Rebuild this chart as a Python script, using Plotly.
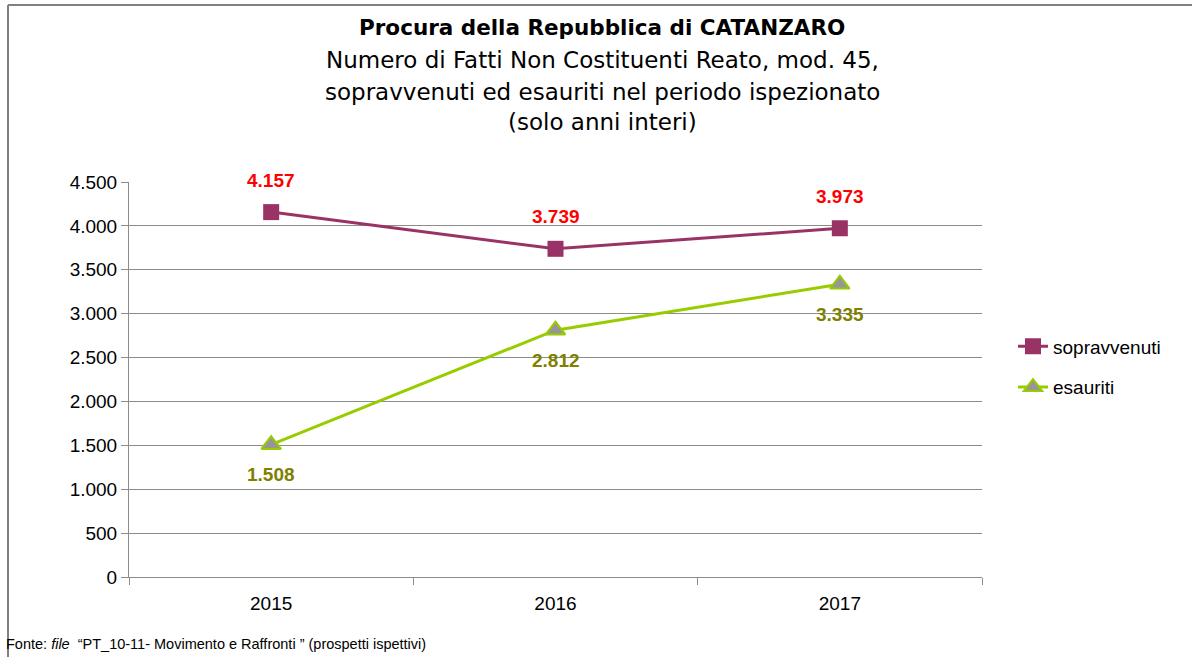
import plotly.graph_objects as go

# ---------------------------------------------------------------------------
# Data
# ---------------------------------------------------------------------------
years = ["2015", "2016", "2017"]
sopravvenuti = [4157, 3739, 3973]
esauriti = [1508, 2812, 3335]

title_lines = [
    "<b>Procura della Repubblica di CATANZARO</b>",
    "Numero di Fatti Non Costituenti Reato, mod. 45,",
    "sopravvenuti ed esauriti nel periodo ispezionato",
    "(solo anni interi)",
]
source_note = "Fonte: <i>file</i>  \u201cPT_10-11- Movimento e Raffronti \u201d (prospetti ispettivi)"

# ---------------------------------------------------------------------------
# Layout geometry (pixels)
# ---------------------------------------------------------------------------
W, H = 1192, 657
PL, PR, PT, PB = 129, 982, 182, 577   # plot area edges


def px_x(x):
    return (x - PL) / (PR - PL)


def px_y(y):
    return (PB - y) / (PB - PT)


def fmt(v):
    return f"{v:,}".replace(",", ".")


AXIS_FONT = "Liberation Sans, Arial, sans-serif"
TITLE_FONT = "DejaVu Sans, Verdana, sans-serif"
GRID = "#8c8c8c"

fig = go.Figure()

fig.add_trace(go.Scatter(
    x=years, y=sopravvenuti, name="sopravvenuti",
    mode="lines+markers",
    line=dict(color="#993366", width=3),
    marker=dict(symbol="square", size=16, color="#993366"),
    legendgroup="a",
))
fig.add_trace(go.Scatter(
    x=years, y=esauriti, name="esauriti",
    mode="lines+markers",
    line=dict(color="#99CC00", width=3),
    marker=dict(symbol="triangle-up", size=17, color="#969696",
                line=dict(color="#99CC00", width=2)),
    legendgroup="b",
))

# data labels (x given as category index)
for i, v in enumerate(sopravvenuti):
    fig.add_annotation(x=i, y=v, xref="x", yref="y", text=f"<b>{fmt(v)}</b>",
                       showarrow=False, yshift=32,
                       font=dict(family=AXIS_FONT, size=19, color="#FF0000"))
for i, v in enumerate(esauriti):
    fig.add_annotation(x=i, y=v, xref="x", yref="y", text=f"<b>{fmt(v)}</b>",
                       showarrow=False, yshift=-30,
                       font=dict(family=AXIS_FONT, size=19, color="#808000"))

# title lines
title_sizes = [21.5, 23, 23, 23]
for text, ypix, fs in zip(title_lines, [28, 60, 92, 122], title_sizes):
    fig.add_annotation(xref="paper", yref="paper", x=px_x(602), y=px_y(ypix),
                       text=text, showarrow=False, xanchor="center", yanchor="middle",
                       font=dict(family=TITLE_FONT, size=fs, color="#000000"))

# source note
fig.add_annotation(xref="paper", yref="paper", x=px_x(4), y=px_y(644),
                   text=source_note, showarrow=False, xanchor="left", yanchor="middle",
                   font=dict(family=AXIS_FONT, size=14.5, color="#000000"))

# outer frame (left + top edges)
fig.add_shape(type="line", xref="paper", yref="paper",
              x0=px_x(8), y0=px_y(H), x1=px_x(8), y1=px_y(5),
              line=dict(color="#808080", width=2))
fig.add_shape(type="line", xref="paper", yref="paper",
              x0=px_x(8), y0=px_y(5), x1=px_x(W), y1=px_y(5),
              line=dict(color="#808080", width=2))

fig.update_xaxes(
    type="category", range=[-0.5, 2.5],
    tickson="boundaries", ticks="outside", ticklen=7, tickcolor=GRID,
    ticklabelstandoff=9,
    showgrid=False, showline=True, linecolor=GRID, linewidth=1,
    tickfont=dict(family=AXIS_FONT, size=19, color="#000000"),
)
fig.update_yaxes(
    range=[0, 4500], dtick=500, tickformat=",d",
    ticks="outside", ticklen=7, tickcolor=GRID,
    showgrid=True, gridcolor=GRID, gridwidth=1,
    showline=True, linecolor=GRID, linewidth=1,
    zeroline=False,
    tickfont=dict(family=AXIS_FONT, size=19, color="#000000"),
)

fig.update_layout(
    width=W, height=H,
    margin=dict(l=PL, r=W - PR, t=PT, b=H - PB),
    paper_bgcolor="white", plot_bgcolor="white",
    separators=",.",
    showlegend=True,
    legend=dict(
        x=px_x(1013), y=px_y(367), xanchor="left", yanchor="middle",
        traceorder="grouped", tracegroupgap=13,
        font=dict(family=AXIS_FONT, size=19, color="#000000"),
        bgcolor="rgba(0,0,0,0)",
    ),
)

fig.write_html("out.html", config={"displayModeBar": False},
               post_script="document.body.style.margin='0';")
